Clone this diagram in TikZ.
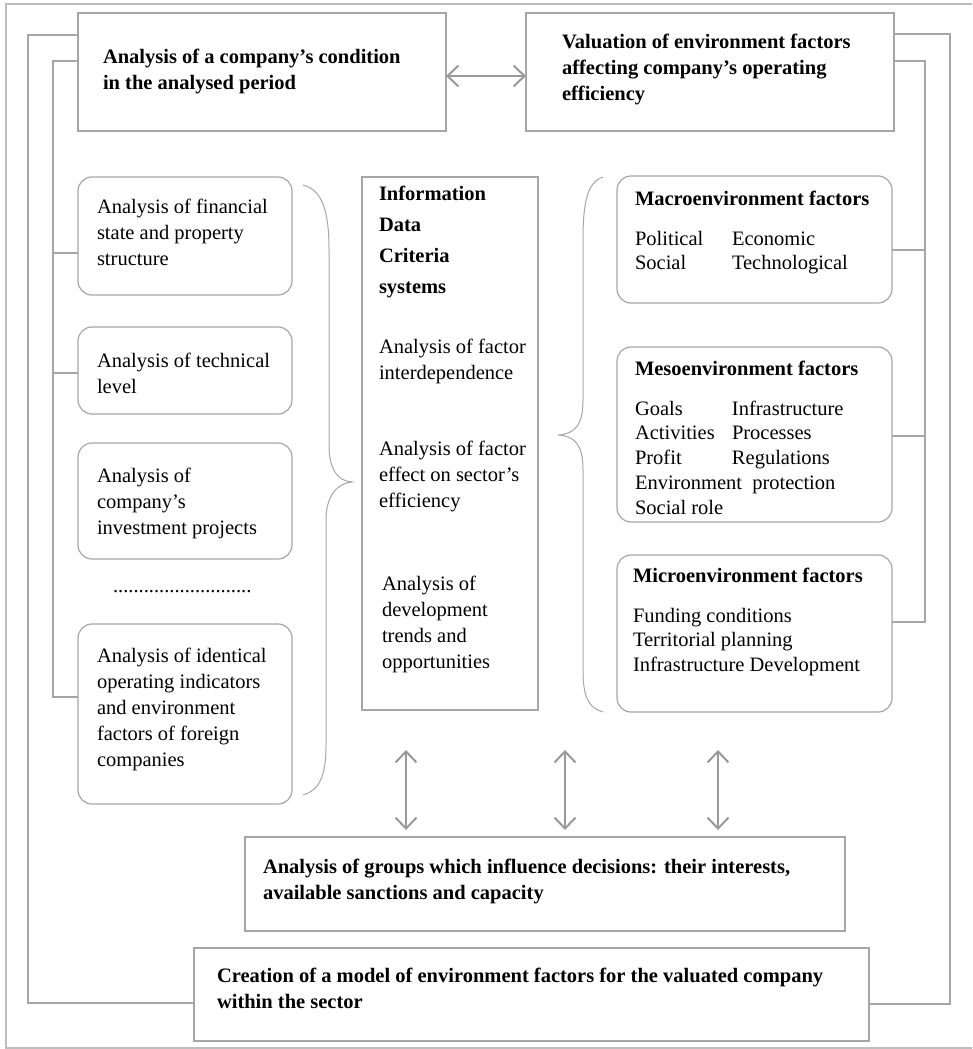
\documentclass[tikz,border=0pt]{standalone}
\usepackage{fontspec}
\setmainfont{Liberation Serif}
\usetikzlibrary{calc,arrows.meta}
\definecolor{boxgray}{HTML}{A6A6A6}
\definecolor{arrgray}{HTML}{999999}
\definecolor{framegray}{HTML}{BDBDBD}
\newcommand{\fsn}{\fontsize{20.5}{26}\selectfont}
\newcommand{\fsr}{\fontsize{20.5}{24.75}\selectfont}
\tikzset{
 sqbox/.style={draw=boxgray, line width=1.2pt, rectangle, inner sep=0pt, outer sep=0pt, anchor=north west},
 rbox/.style={sqbox, rounded corners=14pt},
 txt/.style={anchor=north west, inner sep=0pt, outer sep=0pt, align=left, font=\fsn},
 rtxt/.style={txt, font=\fsr},
 conn/.style={draw=boxgray, line width=1.2pt},
 brace/.style={draw=boxgray, line width=1pt},
 darr/.style={draw=arrgray, line width=2pt, {Straight Barb[length=11pt,width=21pt]}-{Straight Barb[length=11pt,width=21pt]}},
}
\begin{document}
\begin{tikzpicture}[x=1pt,y=-1pt]
\useasboundingbox (0,0) rectangle (972,1049);
% outer frame
\draw[framegray, line width=1.2pt] (972,4) -- (6,4) -- (6,1048) -- (972,1048);

% top boxes
\node[sqbox, minimum width=368pt, minimum height=118pt] (A) at (78,13) {};
\node[sqbox, minimum width=368pt, minimum height=118pt] (B) at (526,13) {};
\node[txt] (tA) at (103,44.8) {\strut\textbf{Analysis of a company’s condition}\\\textbf{in the analysed period}};
\node[txt] (tB) at (562,29.8) {\strut\textbf{Valuation of environment factors}\\\textbf{affecting company’s operating}\\\textbf{efficiency}};

% left boxes
\node[rbox, minimum width=214pt, minimum height=118pt] (L1) at (78,177) {};
\node[rbox, minimum width=214pt, minimum height=87pt] (L2) at (78,327) {};
\node[rbox, minimum width=214pt, minimum height=116pt] (L3) at (78,443) {};
\node[rbox, minimum width=214pt, minimum height=180pt] (L4) at (78,624) {};
\node[txt] (tL1) at (97,194.8) {\strut Analysis of financial\\state and property\\structure};
\node[txt] (tL2) at (97,348.8) {\strut Analysis of technical\\level};
\node[txt] (tL3) at (97,463.8) {\strut Analysis of\\company’s\\investment projects};
\node[txt] (dots) at (113,573.8) {\strut...........................};
\node[txt] (tL4) at (97,643.8) {\strut Analysis of identical\\operating indicators\\and environment\\factors of foreign\\companies};

% middle box
\node[sqbox, minimum width=176pt, minimum height=533pt] (M) at (362,177) {};
\node[txt] (tM1) at (379,181.8) {\strut\textbf{Information}\\[5pt]\textbf{Data}\\[5pt]\textbf{Criteria}\\[5pt]\textbf{systems}};
\node[txt] (tM2) at (379,334.8) {\strut Analysis of factor\\interdependence};
\node[txt] (tM3) at (379,436.8) {\strut Analysis of factor\\effect on sector’s\\efficiency};
\node[txt] (tM4) at (382,571.8) {\strut Analysis of\\development\\trends and\\opportunities};

% right boxes
\node[rbox, minimum width=275pt, minimum height=127pt] (MA) at (617,176) {};
\node[rbox, minimum width=275pt, minimum height=175pt] (ME) at (617,347) {};
\node[rbox, minimum width=275pt, minimum height=157pt] (MI) at (617,555) {};
\node[txt] (tMA) at (635,186.8) {\strut\textbf{Macroenvironment factors}};
\node[rtxt] (rMA) at (635,227.7) {\strut\makebox[97pt][l]{Political}Economic\\\makebox[97pt][l]{Social}Technological};
\node[txt] (tME) at (635,356.8) {\strut\textbf{Mesoenvironment factors}};
\node[rtxt] (rME) at (635,397.7) {\strut\makebox[97pt][l]{Goals}Infrastructure\\\makebox[97pt][l]{Activities}Processes\\\makebox[97pt][l]{Profit}Regulations\\Environment\ \ protection\\Social role};
\node[txt] (tMI) at (633,563.8) {\strut\textbf{Microenvironment factors}};
\node[rtxt] (rMI) at (633,604.7) {\strut Funding conditions\\Territorial planning\\Infrastructure Development};

% braces
\draw[brace] (303,185) .. controls (322,190) and (329,210) .. (329,250) -- (329,445) .. controls (329,470) and (338,481) .. (352,482) .. controls (338,483) and (326,495) .. (326,520) -- (326,745) .. controls (326,775) and (320,790) .. (303,795);
\draw[brace] (603,177) .. controls (588,182) and (583,200) .. (583,240) -- (583,400) .. controls (583,425) and (575,434) .. (558,435) .. controls (575,436) and (583,445) .. (583,470) -- (583,670) .. controls (583,700) and (590,708) .. (603,712);

% bottom boxes
\node[sqbox, minimum width=600pt, minimum height=94pt] (G) at (245,837) {};
\node[txt] (tG) at (263,854.8) {\strut\textbf{Analysis of groups which influence decisions: their interests,}\\\textbf{available sanctions and capacity}};
\node[sqbox, minimum width=675pt, minimum height=93pt] (E) at (194,948) {};
\node[txt] (tE) at (217,963.8) {\strut\textbf{Creation of a model of environment factors for the valuated company}\\\textbf{within the sector}};

% connectors
\draw[conn] ($(A.north west)+(0,22)$) -- ++(-50,0) |- ($(E.north west)+(0,55)$);
\draw[conn] ($(A.north west)+(0,48)$) -- ++(-25,0) |- ($(L4.north west)+(0,73)$);
\draw[conn] ($(L1.north west)+(0,76)$) -- ++(-25,0);
\draw[conn] ($(L2.north west)+(0,46)$) -- ++(-25,0);
\draw[conn] ($(B.north east)+(0,48)$) -- ++(31,0) |- ($(MI.north east)+(0,67)$);
\draw[conn] ($(MA.north east)+(0,74)$) -- ++(33,0);
\draw[conn] ($(ME.north east)+(0,89)$) -- ++(33,0);
\draw[conn] ($(B.north east)+(0,21)$) -- ++(56,0) |- ($(E.north east)+(0,56)$);

% arrows
\draw[darr] ($(A.north east)+(0,63)$) -- ($(B.north west)+(0,63)$);
\coordinate (v1t) at (406,750); \coordinate (v1b) at (406,830);
\coordinate (v2t) at (565,750); \coordinate (v2b) at (565,830);
\coordinate (v3t) at (718,750); \coordinate (v3b) at (718,830);
\draw[darr] (v1t) -- (v1b);
\draw[darr] (v2t) -- (v2b);
\draw[darr] (v3t) -- (v3b);
\end{tikzpicture}
\end{document}
